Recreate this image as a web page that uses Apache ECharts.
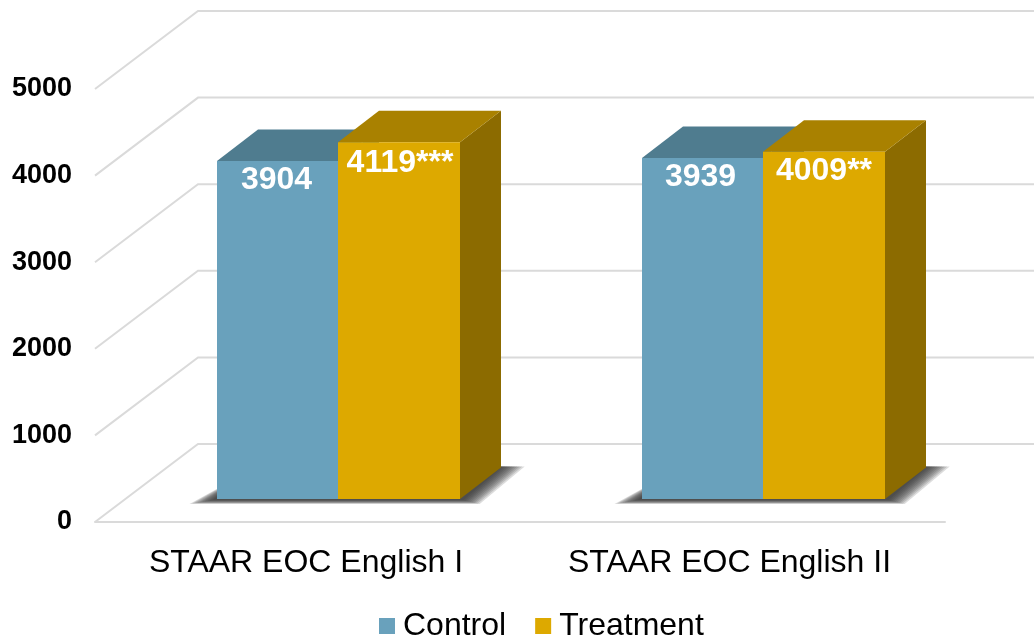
<!DOCTYPE html>
<html>
<head>
<meta charset="utf-8">
<style>html,body{margin:0;padding:0;background:#fff}#chart{width:1034px;height:638px}</style>
<script src="https://cdn.jsdelivr.net/npm/echarts@6/dist/echarts.min.js"></script>
</head>
<body>
<div id="chart"></div>
<script>
// Mean STAAR EOC scale scores by study group
const categories = ['STAAR EOC English I', 'STAAR EOC English II'];
const controlScores = [3904, 3939];
const treatmentScores = [4119, 4009];
const treatmentStars = ['***', '**'];
const wallTicks = [0, 1000, 2000, 3000, 4000, 5000];

const FONT = '"Liberation Sans", Arial, sans-serif';
const GRID_LINE = '#DADADA';
// Oblique projection of the box: wall depth and box depth in pixels
const WALL_DX = 103, WALL_DY = -78;
const BOX_DX = 41, BOX_DY = -31.5;
const FLOOR_DX = 30.6, FLOOR_DY = -23;
const BAR_SHARE = 0.286;
const SHADOW_LAYERS = 10;

const chart = echarts.init(document.getElementById('chart'));

// Side wall and back wall rule for one value
function renderWall(params, api) {
  const cs = params.coordSys;
  const y = api.coord([0, api.value(0)])[1];
  return {
    type: 'polyline', silent: true,
    shape: { points: [[cs.x, y], [cs.x + WALL_DX, y + WALL_DY], [cs.x + cs.width + WALL_DX, y + WALL_DY]] },
    style: { stroke: GRID_LINE, lineWidth: 2, fill: null }
  };
}

// Soft shadow on the floor under a pair of boxes, built from nested translucent layers
function renderShadow(params, api) {
  const base = api.coord([api.value(0), 0]);
  const w = api.size([1, 0])[0] * BAR_SHARE;
  const l = base[0] + FLOOR_DX - w, r = base[0] + FLOOR_DX + w, y = base[1] + FLOOR_DY;
  const children = [];
  for (let n = 0; n < SHADOW_LAYERS; n++) {
    const k = 1 - n / (SHADOW_LAYERS - 1);
    children.push({
      type: 'polygon', silent: true,
      shape: { points: [
        [l - 4 - 23 * k, y + 1 + 4 * k],
        [r + 4 + 16 * k, y + 1 + 4 * k],
        [r + BOX_DX + 2 + 22 * k, y + BOX_DY - 1],
        [l + BOX_DX, y + BOX_DY - 1]
      ] },
      style: { fill: 'rgba(50,50,50,0.17)' }
    });
  }
  return { type: 'group', children };
}

// One extruded column: front face, top and right side, with its value on the front
function boxRenderer(slot, front, top, side, stars, labelShift) {
  return function (params, api) {
    const i = api.value(0), value = api.value(1);
    const base = api.coord([i, 0]);
    const peak = api.coord([i, value]);
    const w = api.size([1, 0])[0] * BAR_SHARE;
    const mid = base[0] + FLOOR_DX;
    const l = Math.round(mid + (slot - 1) * w), r = Math.round(mid + slot * w);
    const b = base[1] + FLOOR_DY, t = peak[1] + FLOOR_DY;
    return {
      type: 'group',
      children: [
        { type: 'polygon', shape: { points: [[r, t], [r + BOX_DX, t + BOX_DY], [r + BOX_DX, b + BOX_DY], [r, b]] }, style: { fill: side } },
        { type: 'polygon', shape: { points: [[l, t], [l + BOX_DX, t + BOX_DY], [r + BOX_DX, t + BOX_DY], [r, t]] }, style: { fill: top } },
        { type: 'rect', shape: { x: l, y: t, width: r - l, height: b - t }, style: { fill: front } },
        {
          type: 'text',
          style: {
            x: (l + r) / 2 + labelShift[i][0], y: t + labelShift[i][1],
            text: String(value) + (stars ? stars[i] : ''),
            fill: '#fff', font: 'bold 32px ' + FONT, align: 'center', verticalAlign: 'middle'
          }
        }
      ]
    };
  };
}

chart.setOption({
  animation: false,
  backgroundColor: '#fff',
  color: ['#69A1BC', '#DDA900'],
  grid: { left: 95, top: 89, width: 850, height: 433 },
  legend: {
    data: ['Control', 'Treatment'],
    icon: 'rect', left: 379, top: 610, padding: 0,
    itemWidth: 16, itemHeight: 16, itemGap: 29, selectedMode: false,
    textStyle: { fontFamily: FONT, fontSize: 32, color: '#000', padding: [0, 0, 0, 3] }
  },
  xAxis: {
    type: 'category',
    data: [
      { value: categories[0], textStyle: { padding: [0, 3, 0, 0] } },
      { value: categories[1], textStyle: { padding: [0, 6, 0, 0] } }
    ],
    axisLine: { show: true, lineStyle: { color: GRID_LINE, width: 2 } },
    axisTick: { show: false },
    axisLabel: { fontFamily: FONT, fontSize: 32, color: '#000', margin: 25 }
  },
  yAxis: {
    type: 'value', min: 0, max: 5000, interval: 1000,
    axisLine: { show: false }, axisTick: { show: false }, splitLine: { show: false },
    axisLabel: { fontFamily: FONT, fontSize: 27, fontWeight: 'bold', color: '#000', margin: 23, padding: [6, 0, 0, 0], formatter: v => String(v) }
  },
  series: [
    { type: 'custom', name: 'wall', coordinateSystem: 'cartesian2d', silent: true, z: 1, clip: false,
      data: wallTicks.map(v => [v]), encode: { y: 0 }, renderItem: renderWall },
    { type: 'custom', name: 'shadow', coordinateSystem: 'cartesian2d', silent: true, z: 2, clip: false,
      data: categories.map((c, i) => [i]), encode: { x: 0 }, renderItem: renderShadow },
    { type: 'custom', name: 'Control', coordinateSystem: 'cartesian2d', z: 3, clip: false,
      data: controlScores.map((v, i) => [i, v]), encode: { x: 0, y: 1 },
      renderItem: boxRenderer(0, '#69A1BC', '#4F7C8F', '#4F7C8F', null, [[-1, 19], [-2, 19]]) },
    { type: 'custom', name: 'Treatment', coordinateSystem: 'cartesian2d', z: 4, clip: false,
      data: treatmentScores.map((v, i) => [i, v]), encode: { x: 0, y: 1 },
      renderItem: boxRenderer(1, '#DDA900', '#A98100', '#8C6B00', treatmentStars, [[1, 21], [0, 19]]) }
  ]
});
</script>
</body>
</html>
